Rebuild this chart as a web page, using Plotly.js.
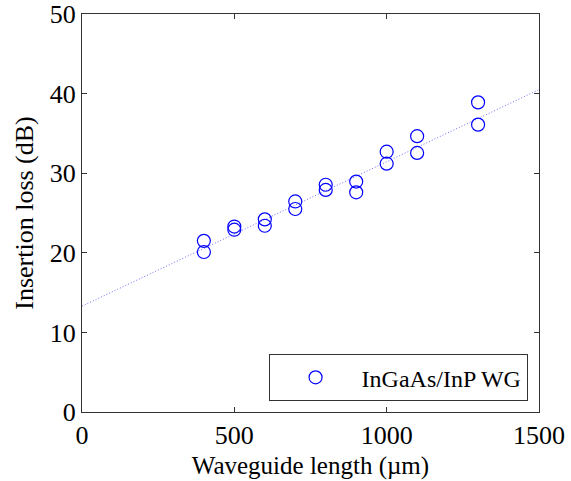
<!DOCTYPE html>
<html>
<head>
<meta charset="utf-8">
<script src="https://cdn.plot.ly/plotly-3.0.1.min.js"></script>
<style>html,body{margin:0;padding:0;background:#fff;}#chart{width:571px;height:481px;}</style>
</head>
<body>
<div id="chart"></div>
<script>
// Measured data (waveguide length in µm, insertion loss in dB)
var lengths = [400, 400, 500, 500, 600, 600, 700, 700, 800, 800, 900, 900, 1000, 1000, 1100, 1100, 1300, 1300];
var losses  = [21.5, 20.1, 23.3, 22.9, 24.2, 23.4, 26.45, 25.5, 28.55, 27.9, 28.95, 27.6, 32.7, 31.2, 34.65, 32.55, 38.9, 36.1];
// Linear fit line endpoints
var fitX = [0, 1500];
var fitY = [13.3, 40.5];
var seriesName = 'InGaAs/InP WG';
var xTicks = [0, 500, 1000, 1500];
var yTicks = [0, 10, 20, 30, 40, 50];

var font = 'Liberation Serif, Times New Roman, serif';

var traces = [
  {x: fitX, y: fitY, mode: 'lines', line: {color: '#6f6fff', width: 1, dash: '1px,2px'}, showlegend: false, hoverinfo: 'skip'},
  {x: lengths, y: losses, mode: 'markers', name: seriesName,
   marker: {symbol: 'circle-open', size: 13, color: '#0000ff', line: {width: 1.2, color: '#0000ff'}}}
];

var axisCommon = {
  showline: true, mirror: 'ticks', linecolor: '#333', linewidth: 1,
  ticks: 'inside', ticklen: 5, tickcolor: '#333', tickwidth: 1,
  showgrid: false, zeroline: false,
  tickfont: {family: font, size: 26, color: '#000'}
};

var layout = {
  width: 571, height: 481,
  margin: {l: 82, r: 32, t: 14, b: 69},
  paper_bgcolor: '#fff', plot_bgcolor: '#fff',
  xaxis: Object.assign({}, axisCommon, {range: [0, 1500], tickvals: xTicks, ticktext: xTicks.map(String),
    title: {text: 'Waveguide length (µm)', font: {family: font, size: 25, color: '#000'}, standoff: 7}}),
  yaxis: Object.assign({}, axisCommon, {range: [0, 50], tickvals: yTicks, ticktext: yTicks.map(String),
    title: {text: 'Insertion loss (dB)', font: {family: font, size: 26, color: '#000'}, standoff: 8}}),
  showlegend: true,
  legend: {x: 0.975, y: 0.027, xanchor: 'right', yanchor: 'bottom',
    bgcolor: '#fff', bordercolor: '#333', borderwidth: 1,
    font: {family: font, size: 24, color: '#000'}, itemwidth: 82},
  shapes: []
};

Plotly.newPlot('chart', traces, layout, {staticPlot: true, displayModeBar: false});
</script>
</body>
</html>
